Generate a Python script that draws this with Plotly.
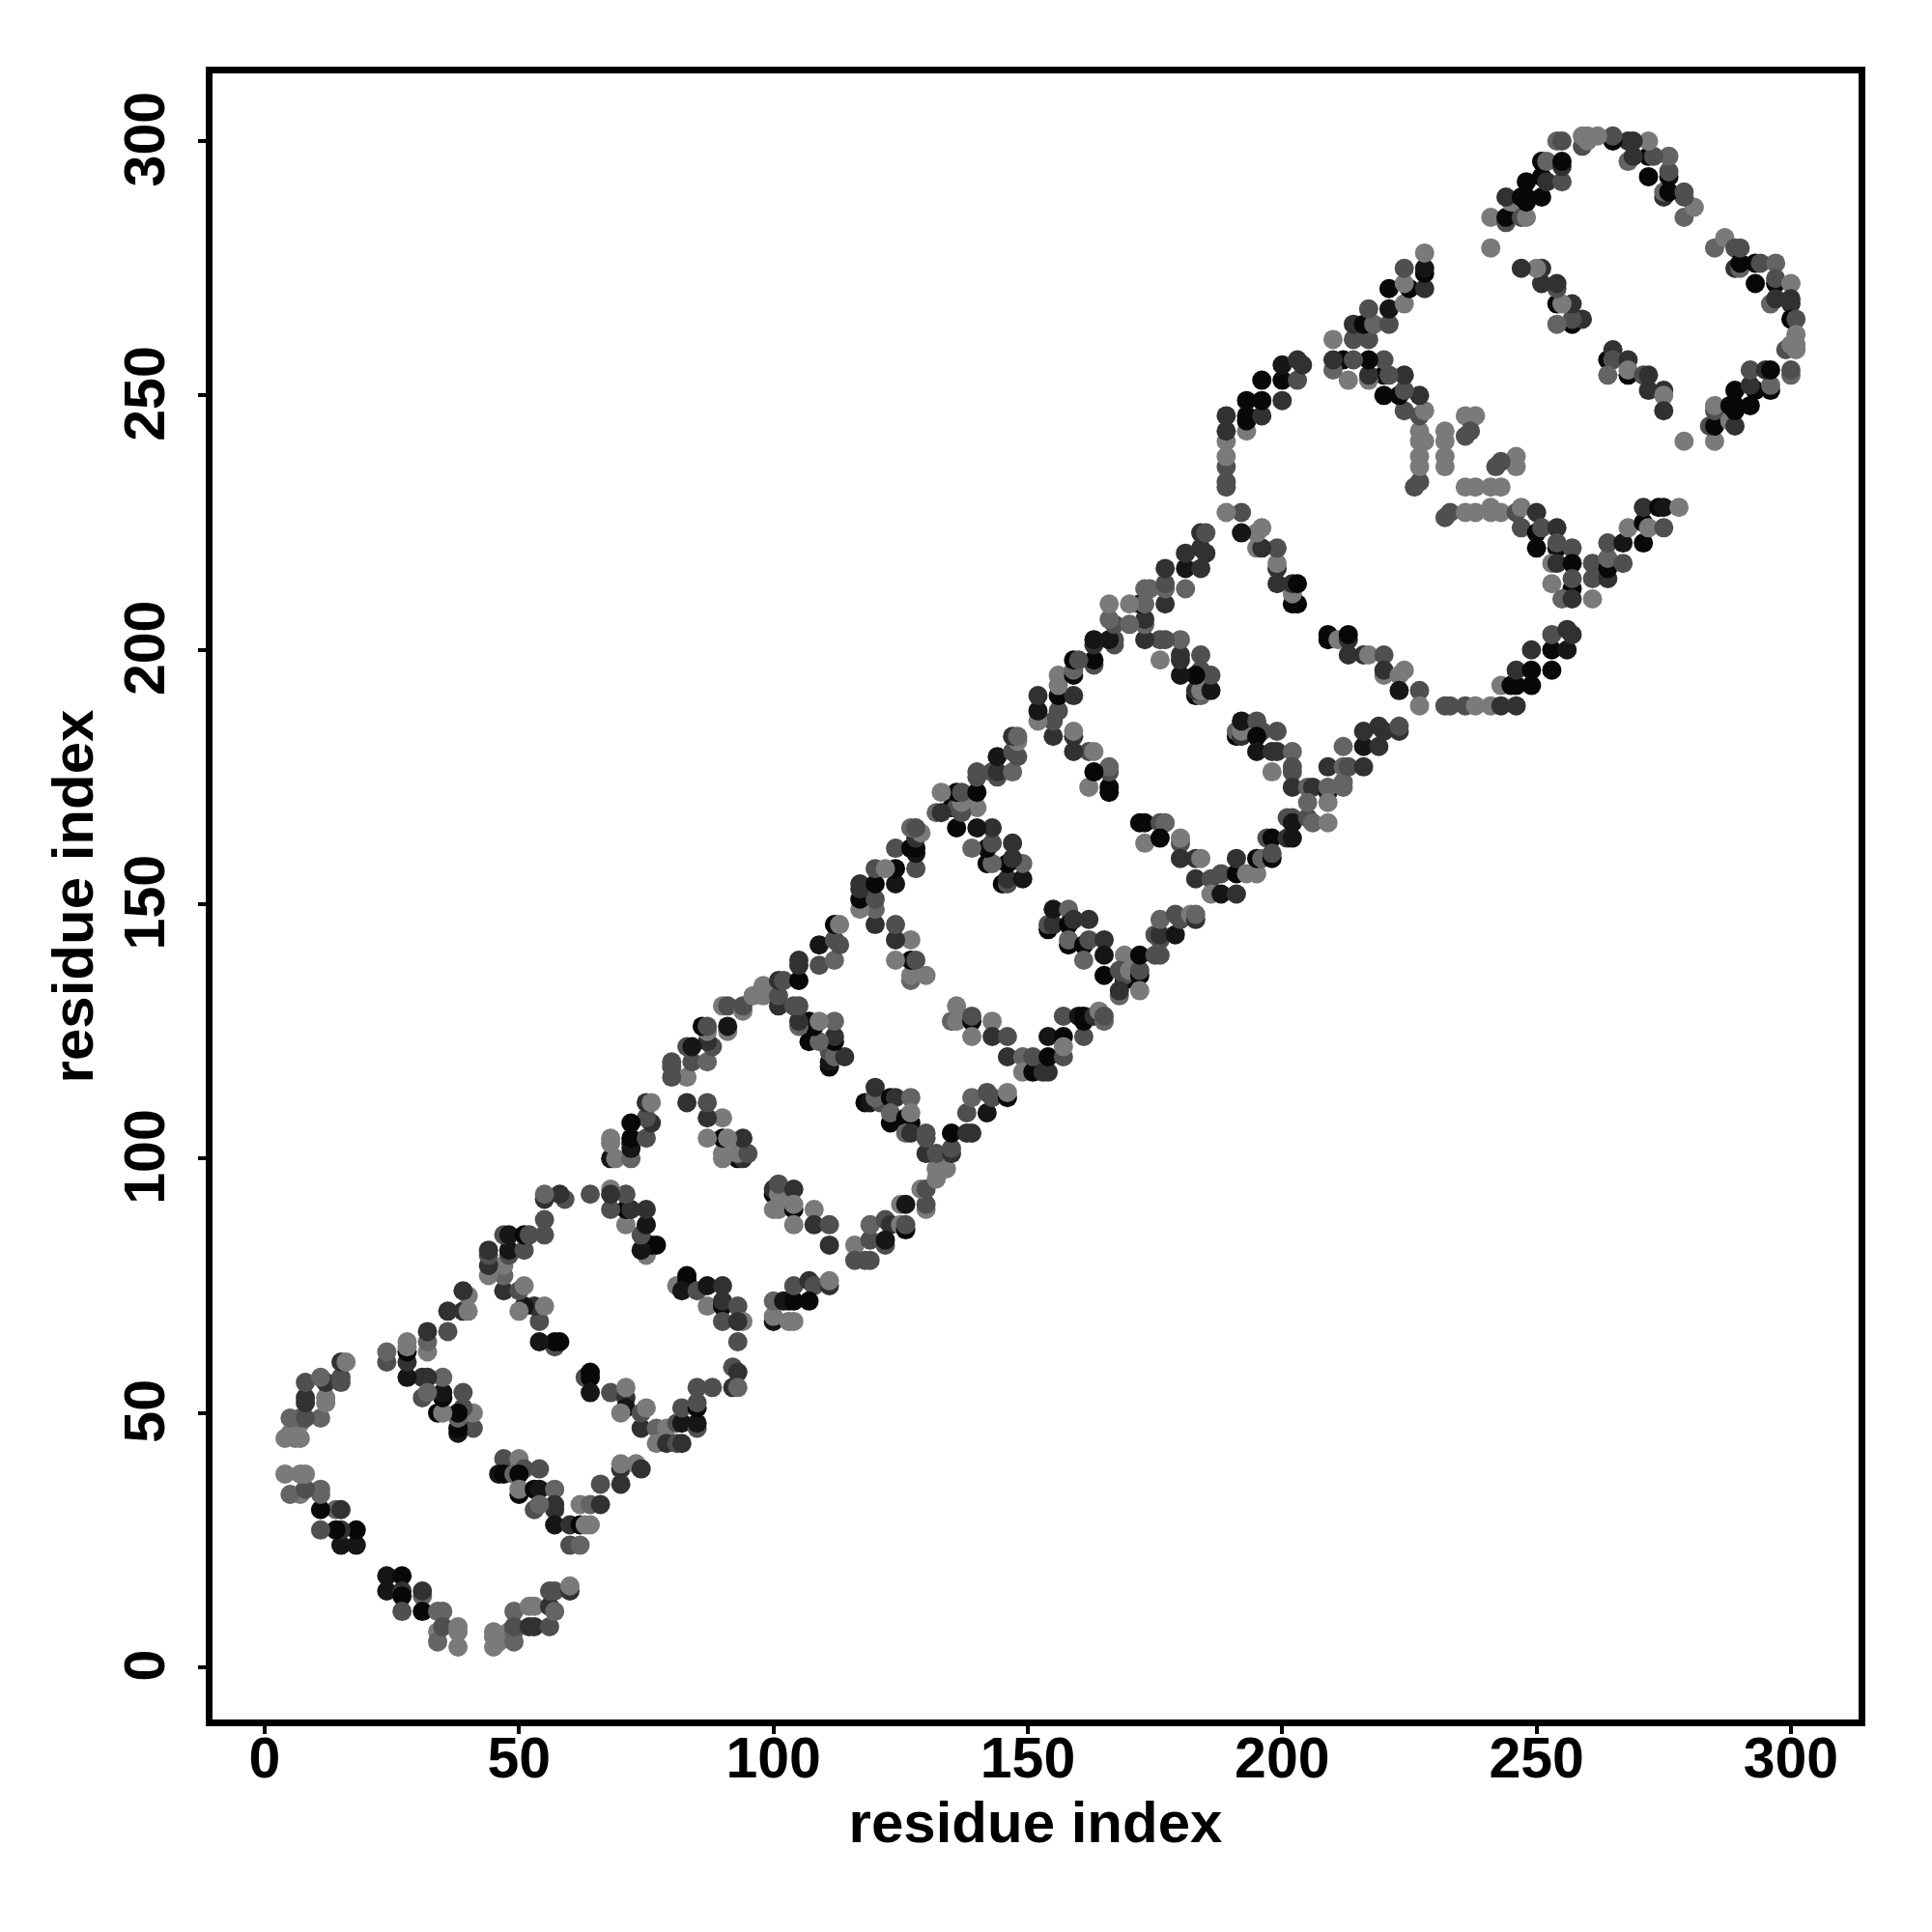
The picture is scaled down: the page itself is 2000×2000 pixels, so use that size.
import plotly.graph_objects as go

# contact score levels read from the grey level of each dot (0 = black, 1 = lightest grey)
B, K, D, M, L, G = 0.06, 0.17, 0.38, 0.62, 0.78, 0.95

# Each band: (residue i, residue j, score); the map is symmetric, so every contact is drawn twice
band_a = [(24,18,K),(27,18,B),(24,15,K),(27,15,D),(27,14,B),(31,14,L),(31,15,D),(31,11,B),(27,11,M),
          (34,11,L),(35,11,L),(34,7,G),(34,5,L),(35,8,M),(38,8,G),(38,7,G),(38,4,G),(45,7,G),(45,6,G),(45,4,G),
          (46,5,G),(48,7,G),(49,11,L),(49,5,L),(49,7,L),(49,8,M),(52,12,G),(53,12,G),(52,8,D),(53,8,D),(56,8,M),
          (56,12,D),(56,15,M),(57,15,M),(57,11,L),(60,15,D),(60,16,G)]
band_b = [(47,41,M),(50,41,G),(51,39,M),(54,39,M),(46,38,K),(47,38,B),(49,38,L),(50,38,B),(50,34,B),(50,35,G),
          (53,35,B),(54,35,K),(57,35,L),(57,32,D),(57,31,D),(53,31,M),(54,32,L),(57,28,K),(60,28,D),(62,28,B),
          (63,28,G),(64,28,G),(60,24,M),(62,24,L),(62,32,G),(64,32,L),(66,32,D),(66,36,M),(70,36,D),(70,39,D),
          (70,40,G),(73,40,G),(74,39,D)]
band_c = [(63,57,M),(64,58,B),(64,57,B),(64,54,K),(68,54,M),(71,53,D),(71,55,G),(71,51,K),(70,50,G),(74,47,D),
          (74,50,M),(75,51,G),(77,47,L),(77,44,G),(79,47,G),(79,44,D),(81,44,M),(82,44,D),(81,48,M),(82,48,K),
          (85,47,M),(85,48,K),(82,51,M),(85,51,B),(85,52,M),(85,55,M),(88,55,M)]
band_d = [(81,75,G),(83,77,B),(83,76,B),(82,74,K),(85,74,M),(87,75,K),(90,75,D),(87,71,G),(90,71,B),(90,72,D),
          (90,68,M),(93,71,M),(94,68,G),(93,68,D),(93,64,M),(92,59,M),(93,58,D),(92,55,D),(93,55,L)]
band_e = [(100,68,K),(100,69,G),(100,72,L),(102,72,K),(103,72,K),(104,72,B),(104,75,M),(107,76,D),(108,75,M),
          (107,72,B),(111,75,D),(111,76,G),(103,68,G),(104,68,G)]
band_f = [(100,93,B),(100,94,D),(101,93,G),(101,95,M),(104,94,D),(100,90,G),(101,90,G),(104,90,B),(104,91,G),
          (104,87,G),(108,90,G),(108,87,D),(111,87,M),(111,83,D)]
band_g = [(116,83,G),(119,84,M),(116,80,M),(118,80,M),(119,80,M),(119,87,L),(122,88,M),(123,87,D),(122,83,M),(122,84,K),
          (125,87,G),(126,86,B),(126,87,M),(125,91,G),(126,91,K),(130,90,G),(130,91,M),(129,94,G),(130,94,M),
          (132,96,G),(132,98,G),(134,98,G),(130,101,D),(132,101,M),(135,101,D),(135,102,M)]
band_h = [(118,111,B),(119,111,K),(121,111,M),(120,112,L),(120,114,D),(123,112,B),(124,112,D),(127,112,L),
          (123,107,B),(123,109,L),(126,108,B),(127,107,B),(127,109,G),(126,105,L),(127,105,D),(130,104,M),(130,105,M),
          (135,105,B),(138,105,D),(139,105,D),(138,109,M),(139,112,L),(142,109,K),(142,113,M),(143,112,M),
          (146,112,B),(146,113,G)]
band_i = [(135,127,L),(136,127,G),(136,130,G),(139,127,B),(139,128,M),(139,124,G),(143,127,G),(143,124,D),
          (146,124,M),(146,120,D),(149,120,L),(149,117,G),(151,117,B),(151,120,M),(153,117,D),(154,117,D),(154,120,B),
          (154,124,K),(157,124,B),(157,120,M),(157,122,G),(157,128,M),(160,128,K),(161,124,M),(161,127,B),(161,128,B),
          (163,128,D),(164,129,G),(165,127,L),(165,128,M)]
band_j = [(154,145,B),(154,146,M),(155,146,D),(155,149,K),(158,149,L),(158,146,B),(159,147,D),(162,147,D),
          (158,142,B),(158,143,L),(161,142,B),(162,143,M),(165,143,D),(161,139,L),(165,140,K),(169,140,G),
          (165,136,B),(168,137,M),(169,135,B),(169,136,M),(170,137,G),(172,136,B),(172,137,M),(168,132,L),(168,133,D),(172,133,G)]
band_k = [(172,140,B),(175,140,M),(176,140,M),(175,144,M),(176,143,M),(176,144,D),(179,144,K),(176,147,L),(179,148,M),
          (180,147,M),(182,148,G),(183,147,D),(183,148,L)]
band_l = [(172,166,B),(173,166,B),(176,166,M),(177,166,L),(173,162,G),(176,163,B),(180,162,M),(180,163,G),
          (180,159,D),(183,159,D),(184,159,G)]
band_m = [(183,155,D),(186,155,M),(186,152,G),(188,156,M),(188,152,K),(191,152,D),(191,156,B),(191,159,D),
          (193,156,G),(195,156,G),(195,159,B),(196,159,L),(197,163,M),(198,163,B),(198,159,B),(198,160,M),
          (201,163,D),(202,163,K),(201,167,M),(202,167,M),(202,166,K),(205,167,M),(206,166,L),(209,166,G)]
band_n = [(191,183,B),(191,184,L),(192,183,D),(192,184,G),(192,186,K),(195,186,M),(196,184,M),(199,184,M),(195,183,B),
          (195,180,K),(198,180,D),(199,180,D),(202,180,L),(198,176,G),(202,177,M),(202,176,M),(202,173,D),(205,173,L),
          (206,173,D),(205,170,L),(209,172,K),(209,173,L),(209,170,G),(212,174,L),(212,173,L),(209,177,D),
          (212,181,L),(212,177,L),(213,177,M),(216,177,D),(216,181,K),(216,184,D),(219,181,D),(219,185,D),(220,184,D),
          (223,184,D),(223,185,M)]
band_o = [(209,202,B),(209,203,B),(211,202,G),(213,202,D),(213,203,B),(213,199,D),(216,199,D),(217,199,G),(220,199,M),
          (220,195,G),(220,196,D),(223,195,G),(224,196,G),(223,192,K),(227,192,M),(227,189,G),(232,189,M),(233,189,M),
          (236,189,M),(238,189,G),(241,189,G),(243,189,D),(246,189,D),(243,193,G),(245,193,B),(246,193,B),(249,193,B),
          (246,196,D),(249,196,B),(253,196,B),(249,200,D),(253,200,B),(253,203,M),(256,200,K),(257,203,D),(256,204,D)]
band_p = [(232,226,M),(233,227,M),(236,227,G),(238,227,G),(241,227,G),(241,228,G),(243,227,G),(246,227,M),(247,228,G),
          (250,227,D),(247,224,M),(250,223,B),(251,224,M),(254,224,D),(250,220,B),(254,220,B),(254,221,M),(257,220,M),
          (253,217,G),(254,217,D),(257,217,B),(261,217,M),(253,213,G),(257,212,B),(257,214,M),(261,214,M),(264,214,D),
          (255,210,L),(257,210,D),(261,210,G),(264,216,B),(264,218,L),(267,217,M),(264,221,M),(267,221,K),(271,221,B),
          (268,224,G),(271,225,B),(272,224,G),(275,224,M),(271,228,D),(274,228,B),(275,228,K),(278,228,G)]
band_q = [(246,238,G),(246,236,G),(243,237,M),(242,236,M),(236,232,G),(238,232,G),(241,232,G),(243,232,G)]
band_r = [(264,257,B),(265,259,D),(265,257,M),(264,254,L),(268,257,D),(268,254,B),(268,255,G),(271,254,M),(272,254,D),
          (272,251,D),(275,251,D),(275,250,G),(275,247,D),(279,241,G)]
band_s = [(285,241,G),(284,244,M),(285,244,B),(285,247,M),(285,248,G),(288,245,G),(289,244,D),(288,248,B),(289,247,B),
          (289,248,B),(292,248,B),(289,251,B),(293,251,B),(292,252,D),(292,255,M),(296,251,B),(296,252,L),(295,255,D),
          (296,255,B),(300,254,L),(300,255,M)]
band_t = [(285,279,L),(287,281,G),(289,275,D),(289,279,M),(290,275,L),(290,276,B),(290,279,M),(293,276,B),(294,276,M),
          (297,276,L),(293,272,B),(297,272,B),(297,273,M),(300,272,G),(296,268,L),(297,269,D),(300,268,D),(300,269,D),
          (300,265,B),(301,265,M),(299,259,M),(301,259,G),(300,260,G),(301,260,G),(301,262,G)]

bands = [band_a, band_b, band_c, band_d, band_e, band_f, band_g, band_h, band_i, band_j,
         band_k, band_l, band_m, band_n, band_o, band_p, band_q, band_r, band_s, band_t]

tick_values = [0, 50, 100, 150, 200, 250, 300]
axis_title = "residue index"

xs, ys, scores = [], [], []
for band in bands:
    for i, j, s in band:
        xs += [i, j]
        ys += [j, i]
        scores += [s, s]

fig = go.Figure(go.Scatter(
    x=xs, y=ys, mode="markers",
    marker=dict(size=20, color=scores, cmin=0, cmax=1,
                colorscale=[[0, "#000000"], [1, "#808080"]], line=dict(width=0), showscale=False),
    hoverinfo="skip"))

def axis(title_standoff, angle, label_standoff, label_shift):
    return dict(
        range=[-10.25, 313.3], tickmode="array", tickvals=tick_values,
        ticks="outside", ticklen=8, tickwidth=4, tickcolor="black",
        showline=True, mirror=True, linewidth=6.5, linecolor="black",
        showgrid=False, zeroline=False, tickangle=angle,
        ticklabelstandoff=label_standoff, ticklabelshift=label_shift,
        tickfont=dict(family="Liberation Sans", size=59, color="black", weight=700),
        title=dict(text=axis_title, standoff=title_standoff,
                   font=dict(family="Liberation Sans", size=60, color="black", weight=700)))

fig.update_layout(
    width=2000, height=2000, autosize=False, showlegend=False,
    paper_bgcolor="white", plot_bgcolor="white",
    margin=dict(l=220, r=76, t=76, b=220, pad=0),
    xaxis=axis(16, 0, -26, 0),
    yaxis=axis(3, -90, 12, 7))

fig.write_html("out.html", config={"displayModeBar": False},
               post_script="document.body.style.margin='0';")
